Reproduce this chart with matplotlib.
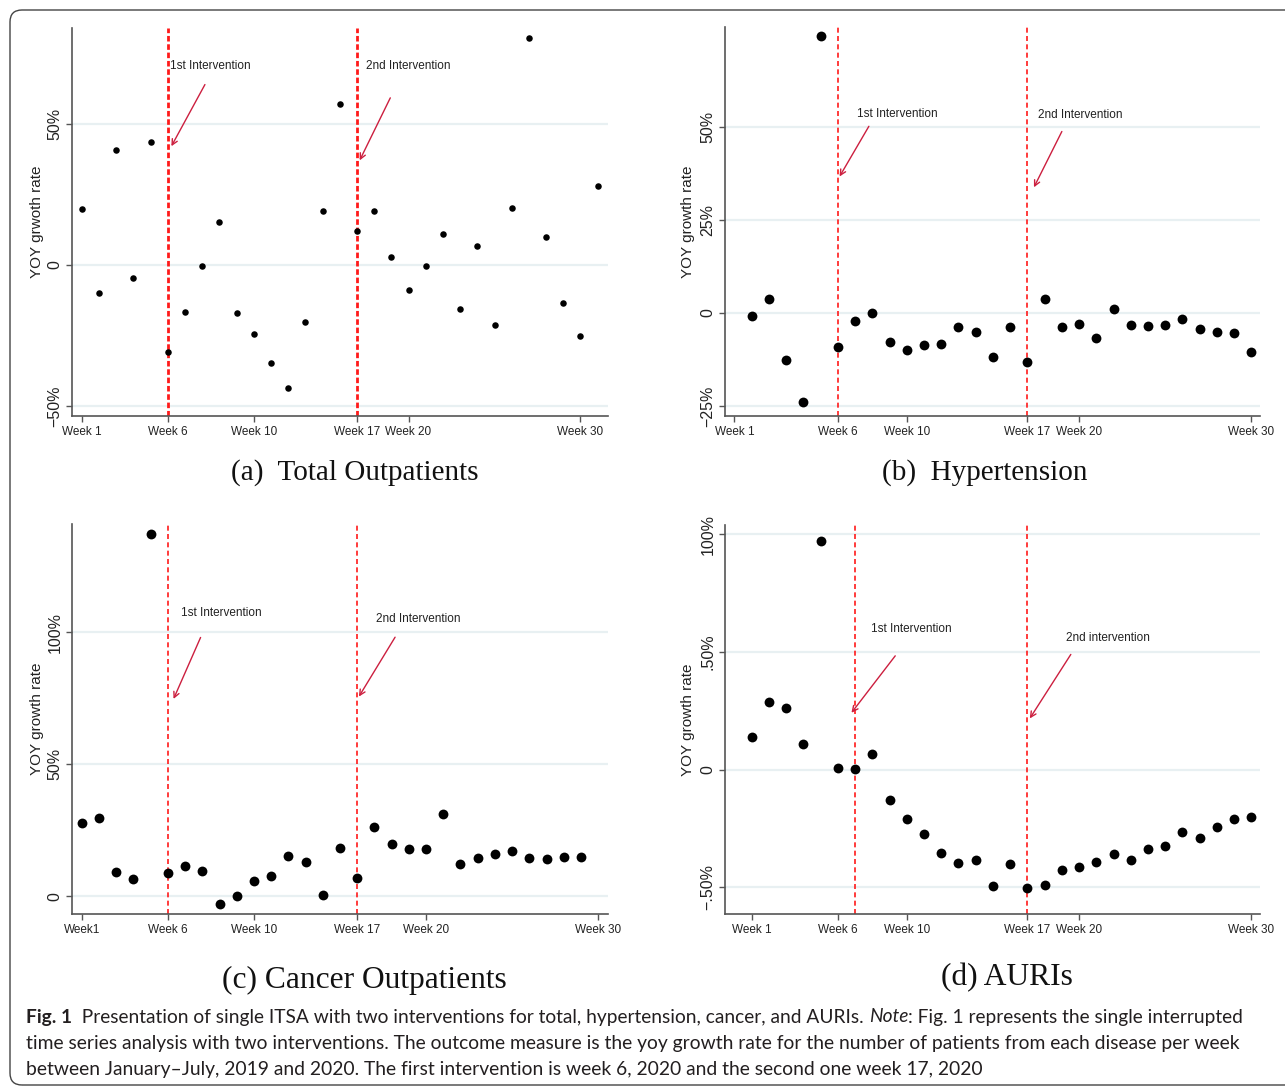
import matplotlib
matplotlib.use("Agg")
import matplotlib.pyplot as plt
from matplotlib.patches import FancyBboxPatch
from matplotlib.transforms import IdentityTransform

# ---- data (yoy growth rate, %) ----
pos_total = list(range(1, 32))
yoy_total = [19.9, -9.9, 40.6, -4.7, 43.4, -30.9, -16.6, -0.4, 15.3, -16.9,
             -24.4, -34.8, -43.4, -20.3, 19.1, 57.1, 12.0, 19.0, 2.8, -8.8,
             -0.5, 10.8, -15.6, 6.6, -21.1, 20.2, 80.4, 10.0, -13.4, -25.0, 27.8]

pos_hyper = list(range(1, 31))
yoy_hyper = [-0.9, 3.8, -12.6, -23.9, 74.4, -9.1, -2.2, 0.0, -7.8, -9.9,
             -8.5, -8.4, -3.9, -5.2, -11.8, -3.8, -13.2, 3.8, -3.9, -2.9,
             -6.6, 1.0, -3.2, -3.4, -3.2, -1.5, -4.4, -5.1, -5.3, -10.5]

pos_cancer = list(range(1, 31))
yoy_cancer = [27.9, 29.5, 9.4, 6.7, 137.3, 9.0, 11.6, 9.5, -3.0, 0.0,
              5.7, 7.7, 15.2, 13.0, 0.5, 18.5, 6.8, 26.3, 19.8, 17.8,
              17.8, 31.2, 12.3, 14.5, 16.1, 17.1, 14.4, 14.3, 14.8, 14.9]

pos_auri = list(range(1, 31))
yoy_auri = [13.9, 28.6, 26.3, 11.0, 97.3, 0.8, 0.3, 6.8, -12.9, -21.1,
            -27.1, -35.3, -39.5, -38.4, -49.2, -39.9, -50.4, -48.9, -42.8, -41.5,
            -39.2, -35.8, -38.4, -33.7, -32.3, -26.3, -28.9, -24.4, -21.0, -20.1]

week_labels = ["Week 1", "Week 6", "Week 10", "Week 17", "Week 20", "Week 30"]
week_labels_c = ["Week1", "Week 6", "Week 10", "Week 17", "Week 20", "Week 30"]
xticks_a = [1, 6, 11, 17, 20, 30]
xticks_b = [0, 6, 10, 17, 20, 30]
xticks_c = [1, 6, 11, 17, 21, 31]
xticks_d = [1, 6, 10, 17, 20, 30]

interv_a = [6, 17]
interv_b = [6, 17]
interv_c = [6, 17]
interv_d = [7, 17]

yticks_a, ylabels_a = [-50, 0, 50], ["\u221250%", "0", "50%"]
yticks_b, ylabels_b = [-25, 0, 25, 50], ["\u221225%", "0", "25%", "50%"]
yticks_c, ylabels_c = [0, 50, 100], ["0", "50%", "100%"]
yticks_d, ylabels_d = [-50, 0, 50, 100], ["\u2212.50%", "0", ".50%", "100%"]

plt.rcParams['font.family'] = ['Liberation Sans', 'DejaVu Sans']

fig = plt.figure(figsize=(12.85, 10.9), dpi=100)
W, H = 1285.0, 1090.0


def px_axes(l, t, r, b):
    return fig.add_axes([l / W, 1 - b / H, (r - l) / W, (b - t) / H])


def panel(ax, x, y, xt, xl, yt, yl, xlim, ylim, interv, ann, ylab, labx,
          ms=50, vlw=1.2, dash=(3, 2)):
    for v in yt:
        ax.axhline(v, color="#e8f0f2", lw=1.6, zorder=0)
    for v in interv:
        ax.axvline(v, color="#ff1a1a", lw=vlw, ls=(0, dash), zorder=2)
    ax.scatter(x, y, s=ms, color="black", zorder=3, linewidths=0)
    for (tx, ty, text), (x0, y0), (x1, y1) in ann:
        ax.text(tx, ty, text, fontsize=8.5, va="center", ha="left",
                color="#222222")
        ax.annotate("", xy=(x1, y1), xytext=(x0, y0),
                    arrowprops=dict(arrowstyle="->", color="#cc1f3f", lw=1.0,
                                    shrinkA=0, shrinkB=0))
    ax.set_xlim(*xlim)
    ax.set_ylim(*ylim)
    ax.set_xticks(xt)
    ax.set_xticklabels(xl, fontsize=8.5)
    ax.set_yticks(yt)
    ax.set_yticklabels(yl, fontsize=11.5, rotation=90, va="center")
    for s in ["top", "right"]:
        ax.spines[s].set_visible(False)
    for s in ["left", "bottom"]:
        ax.spines[s].set_color("#555555")
        ax.spines[s].set_linewidth(1.2)
    ax.tick_params(axis="both", colors="#555555", length=4, width=1.0,
                   labelcolor="#222222")
    ax.tick_params(axis="x", pad=3)
    ax.tick_params(axis="y", pad=3)
    ax.set_ylabel(ylab, fontsize=11, color="#222222")
    ax.yaxis.set_label_coords(labx, 0.5)
    ax.set_facecolor("none")


ax_a = px_axes(72, 28, 608, 416)
panel(ax_a, pos_total, yoy_total, xticks_a, week_labels, yticks_a, ylabels_a,
      (0.43, 31.6), (-53.4, 83.8), interv_a,
      [((6.1, 70.3, "1st Intervention"), (8.16, 63.8), (6.21, 42.0)),
       ((17.5, 70.3, "2nd Intervention"), (18.94, 59.1), (17.16, 37.0))],
      "YOY grwoth rate", -0.052, ms=22, vlw=2.0, dash=(2, 1))

ax_b = px_axes(725, 27, 1260, 416)
panel(ax_b, pos_hyper, yoy_hyper, xticks_b, week_labels, yticks_b, ylabels_b,
      (-0.55, 30.5), (-27.7, 76.9), interv_b,
      [((7.12, 53.5, "1st Intervention"), (7.8, 50.2), (6.1, 36.7)),
       ((17.64, 53.2, "2nd Intervention"), (19.0, 48.8), (17.38, 33.8))],
      "YOY growth rate", -0.056)

ax_c = px_axes(72, 524, 608, 914)
panel(ax_c, pos_cancer, yoy_cancer, xticks_c, week_labels_c, yticks_c, ylabels_c,
      (0.43, 31.57), (-6.7, 141.1), interv_c,
      [((6.78, 107.3, "1st Intervention"), (7.9, 98.1), (6.33, 74.8)),
       ((18.1, 105.0, "2nd Intervention"), (19.2, 98.2), (17.1, 75.7))],
      "YOY growth rate", -0.052)

ax_d = px_axes(725, 525, 1260, 914)
panel(ax_d, pos_auri, yoy_auri, xticks_d, week_labels, yticks_d, ylabels_d,
      (-0.55, 30.5), (-61.3, 104.0), interv_d,
      [((7.95, 59.8, "1st Intervention"), (9.33, 48.4), (6.79, 24.2)),
       ((19.24, 55.9, "2nd intervention"), (19.52, 49.0), (17.14, 21.8))],
      "YOY growth rate", -0.056)

# panel titles
serif = ['Liberation Serif', 'DejaVu Serif']
fig.text(355 / W, 1 - 473 / H, "(a)  Total Outpatients", family=serif,
         fontsize=21, ha="center", va="center", color="#111111")
fig.text(985 / W, 1 - 473 / H, "(b)  Hypertension", family=serif,
         fontsize=21, ha="center", va="center", color="#111111")
fig.text(364 / W, 1 - 980 / H, "(c) Cancer Outpatients", family=serif,
         fontsize=22.7, ha="center", va="center", color="#111111")
fig.text(1007 / W, 1 - 978 / H, "(d) AURIs", family=serif,
         fontsize=22.7, ha="center", va="center", color="#111111")

# frame around the figure
frame = FancyBboxPatch((10, 5), 1400, 1075, boxstyle="round,pad=0,rounding_size=12",
                       transform=IdentityTransform(), fill=False,
                       edgecolor="#444444", lw=1.0)
fig.patches.append(frame)

# caption, sized to fit the width of the original
cap_font = ['Lato', 'DejaVu Sans']
cap_col = "#231f20"
line2 = ("time series analysis with two interventions. The outcome measure is the yoy "
         "growth rate for the number of patients from each disease per week")
line3 = ("between January\u2013July, 2019 and 2020. The first intervention is week 6, "
         "2020 and the second one week 17, 2020")
fig.canvas.draw()
r = fig.canvas.get_renderer()
probe = fig.text(26 / W, 1 - 1044 / H, line2, family=cap_font, fontsize=14,
                 va="center", color=cap_col)
w = probe.get_window_extent(r).width
fs = 14 * (1243 - 26) / w
probe.set_fontsize(fs)
fig.text(26 / W, 1 - 1070 / H, line3, family=cap_font, fontsize=fs,
         va="center", color=cap_col)

pieces = [("Fig. 1", "bold", "normal"),
          ("  Presentation of single ITSA with two interventions for total, "
           "hypertension, cancer, and AURIs. ", "normal", "normal"),
          ("Note", "normal", "italic"),
          (": Fig. 1 represents the single interrupted", "normal", "normal")]
first = []
for txt, wt, st in pieces:
    t = fig.text(0, 1 - 1017 / H, txt, family=cap_font, fontsize=fs,
                 weight=wt, style=st, va="center", color=cap_col)
    first.append(t)
total = sum(t.get_window_extent(r).width for t in first)
fs1 = fs * (1242 - 26) / total
xpix = 26
for t in first:
    t.set_fontsize(fs1)
    t.set_x(xpix / W)
    xpix += t.get_window_extent(r).width

fig.savefig("out.png", dpi=100)
